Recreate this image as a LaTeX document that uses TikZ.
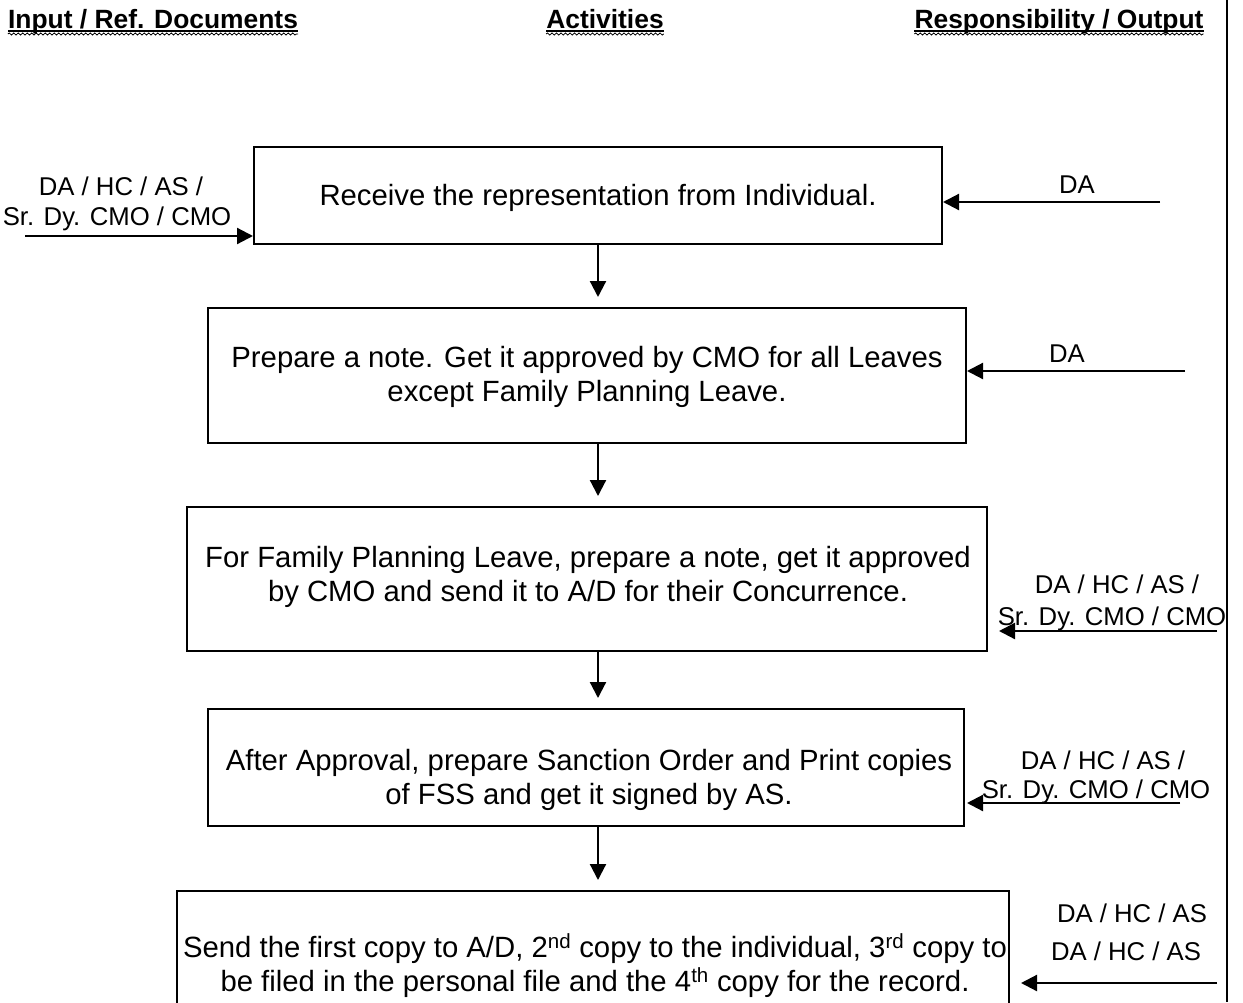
\documentclass[tikz,border=0pt]{standalone}
\usepackage{fontspec}
\setmainfont{Liberation Sans}
\usetikzlibrary{arrows.meta,decorations.pathmorphing}
\begin{document}
\begin{tikzpicture}[x=1pt,y=-1pt,
  box/.style={draw, line width=2pt, inner sep=0pt},
  body/.style={font=\fontsize{29.3}{34}\selectfont, align=center, inner sep=0pt},
  lbl/.style={font=\fontsize{25.7}{30}\selectfont, inner sep=0pt, anchor=base},
  hdr/.style={font=\fontsize{26.4}{30}\selectfont\bfseries, inner sep=0pt, anchor=base},
  conn/.style={line width=2.2pt, -{Triangle[length=16pt,width=16pt]}},
  uline/.style={line width=1.4pt},
  wavy/.style={line width=0.8pt, decorate, decoration={snake, amplitude=1pt, segment length=4.5pt}},
]
\useasboundingbox (0,0) rectangle (1243,1002);
\clip (0,0) rectangle (1243,1002);

% column headings
\node[hdr] (h1) at (153,28) {Input / Ref. Documents};
\node[hdr] (h2) at (605,28) {Activities};
\node[hdr] (h3) at (1059,28) {Responsibility / Output};
\foreach \h in {h1,h2,h3}{
  \draw[uline] ([yshift=-3pt]\h.base west) -- ([yshift=-3pt]\h.base east);
  \draw[wavy] ([yshift=-6pt]\h.base west) -- ([yshift=-6pt]\h.base east);
}

% right-hand border
\coordinate (rt) at (1227,0);
\coordinate (rb) at (1227,1002);
\draw[line width=2pt] (rt) -- (rb);

% activity boxes
\node[box, minimum width=688pt, minimum height=97pt]  (b1) at (598,195.5) {};
\node[box, minimum width=758pt, minimum height=135pt] (b2) at (587,375.5) {};
\node[box, minimum width=800pt, minimum height=144pt] (b3) at (587,579) {};
\node[box, minimum width=756pt, minimum height=117pt] (b4) at (586,767.5) {};
\node[box, minimum width=832pt, minimum height=140pt] (b5) at (593,961) {};

\node[body] (t1) at (598,198) {Receive the representation from Individual.};
\node[body] (t2) at (587,377) {Prepare a note. Get it approved by CMO for all Leaves\\except Family Planning Leave.};
\node[body] (t3) at (588,577) {For Family Planning Leave, prepare a note, get it approved\\by CMO and send it to A/D for their Concurrence.};
\node[body] (t4) at (589,780) {After Approval, prepare Sanction Order and Print copies\\of FSS and get it signed by AS.};
\node[body] (t5) at (595,966) {Send the first copy to A/D, 2\textsuperscript{nd} copy to the individual, 3\textsuperscript{rd} copy to\\be filed in the personal file and the 4\textsuperscript{th} copy for the record.};

% flow between activities
\draw[conn, shorten >=10pt] (b1.south -| 598,0) -- (b2.north -| 598,0);
\draw[conn, shorten >=10pt] (b2.south -| 598,0) -- (b3.north -| 598,0);
\draw[conn, shorten >=10pt] (b3.south -| 598,0) -- (b4.north -| 598,0);
\draw[conn, shorten >=10pt] (b4.south -| 598,0) -- (b5.north -| 598,0);

% input on the left
\node[lbl] (li1) at (121,195) {DA / HC / AS /};
\node[lbl] (li2) at (117,225) {Sr. Dy. CMO / CMO};
\coordinate (l1) at (25,236);
\draw[conn] (l1) -- (l1 -| b1.west);

% responsibility on the right
\node[lbl] (r1a) at (1077,193) {DA};
\coordinate (r1) at (1160,202);
\draw[conn] (r1) -- (r1 -| b1.east);

\node[lbl] (r2a) at (1067,362) {DA};
\coordinate (r2) at (1185,371);
\draw[conn] (r2) -- (r2 -| b2.east);

\node[lbl] (r3a) at (1117,593) {DA / HC / AS /};
\node[lbl] (r3b) at (1112,625) {Sr. Dy. CMO / CMO};
\coordinate (r3) at (1217,631);
\draw[conn, shorten >=11pt] (r3) -- (r3 -| b3.east);

\node[lbl] (r4a) at (1103,769) {DA / HC / AS /};
\node[lbl] (r4b) at (1096,798) {Sr. Dy. CMO / CMO};
\coordinate (r4) at (1180,803);
\draw[conn, shorten >=2pt] (r4) -- (r4 -| b4.east);

\node[lbl] (r5a) at (1132,922) {DA / HC / AS};
\node[lbl] (r5b) at (1126,960) {DA / HC / AS};
\coordinate (r5) at (1217,983);
\draw[conn, shorten >=11pt] (r5) -- (r5 -| b5.east);
\end{tikzpicture}
\end{document}
